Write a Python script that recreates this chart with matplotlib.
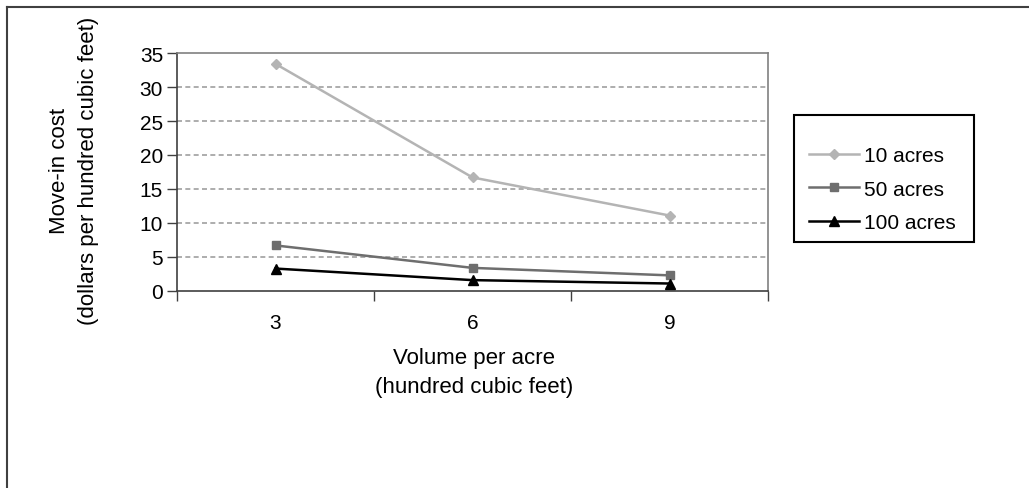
import matplotlib
matplotlib.use('Agg')
import matplotlib.pyplot as plt
from matplotlib.patches import Rectangle
import numpy as np

volumes = ['3', '6', '9']
series_names = ['10 acres', '50 acres', '100 acres']
cost_10 = [33.4, 16.7, 11.1]
cost_50 = [6.7, 3.4, 2.3]
cost_100 = [3.3, 1.6, 1.1]

plt.rcParams['font.family'] = ['Liberation Sans', 'DejaVu Sans']
FS = 15

fig = plt.figure(figsize=(10.29, 4.89), dpi=100)
W, H = 1029, 489
ax = fig.add_axes([177 / W, 1 - 292 / H, (768 - 177) / W, (292 - 54) / H])

# outer frame of the original figure (only top and left visible)
fig.add_artist(plt.Line2D([7 / W, 7 / W], [0, 1 - 8 / H], color='#404040', lw=1.5, transform=fig.transFigure))
fig.add_artist(plt.Line2D([7 / W, 1], [1 - 8 / H, 1 - 8 / H], color='#404040', lw=1.5, transform=fig.transFigure))

x = np.arange(len(volumes))
styles = [
    (cost_10, '#b4b4b4', 'D', 5),
    (cost_50, '#6e6e6e', 's', 6),
    (cost_100, '#000000', '^', 7),
]
for (vals, col, mk, ms), name in zip(styles, series_names):
    ax.plot(x, vals, color=col, marker=mk, markersize=ms, lw=1.8, label=name, zorder=3)

ax.set_xlim(-0.5, 2.5)
ax.set_ylim(0, 35)
ax.set_yticks(np.arange(0, 36, 5))
for y in range(5, 35, 5):
    ax.axhline(y, color='#a0a0a0', lw=1.2, ls=(0, (3, 2)), zorder=1)

ax.set_xticks([-0.5, 0.5, 1.5, 2.5])
ax.set_xticklabels([])
ax.set_xticks(x, minor=True)
ax.set_xticklabels(volumes, minor=True)
ax.tick_params(axis='x', which='major', length=7, width=1, color='#404040', direction='out')
ax.tick_params(axis='x', which='minor', length=0, pad=16, labelsize=FS)
ax.tick_params(axis='y', length=7, width=1, color='#404040', direction='out', labelsize=FS, pad=3)

for s in ['left', 'bottom']:
    ax.spines[s].set_color('#404040')
    ax.spines[s].set_linewidth(1.2)
for s in ['top', 'right']:
    ax.spines[s].set_color('#808080')
    ax.spines[s].set_linewidth(1.2)

fig.text(474 / W, 1 - 373 / H, 'Volume per acre\n(hundred cubic feet)', ha='center', va='center',
         fontsize=16, linespacing=1.55)
fig.text(74 / W, 1 - 171 / H, 'Move-in cost\n(dollars per hundred cubic feet)', ha='center', va='center',
         rotation=90, fontsize=16, linespacing=1.55)

# legend box drawn by hand, entries placed inside it
fig.add_artist(Rectangle((794 / W, 1 - 243 / H), (974 - 794) / W, (243 - 116) / H, transform=fig.transFigure,
                         facecolor='white', edgecolor='#000000', lw=1.5, zorder=2))
leg = fig.legend(loc='upper left', bbox_to_anchor=(809 / W, 1 - 147 / H), frameon=False,
                 fontsize=FS, handlelength=2.4, handletextpad=0.25, borderpad=0, labelspacing=0.7,
                 borderaxespad=0)
leg.set_zorder(3)

fig.savefig('out.png', dpi=100)
